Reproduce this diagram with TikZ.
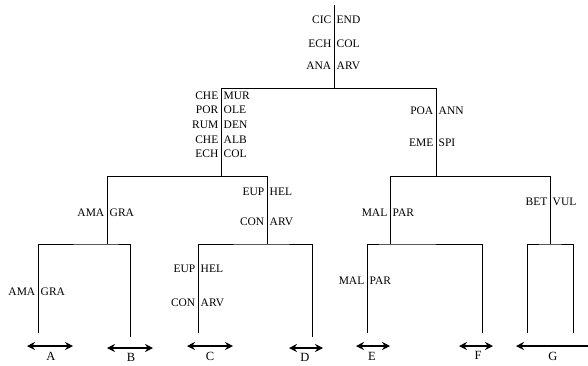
\documentclass[tikz,border=0pt]{standalone}
\usepackage{fontspec}
\setmainfont{Liberation Serif}
\usetikzlibrary{arrows.meta}

% two halves of a split label, left and right of a branch
\newcommand{\splitlab}[5]{%
  \node[lab, anchor=east] (#1l) at (#2-1,#3) {#4};
  \node[lab, anchor=west] (#1r) at (#2+1,#3) {#5};}

\begin{document}
\begin{tikzpicture}[x=1pt, y=-1pt,
  branch/.style={line width=0.9pt},
  lab/.style={font=\fontsize{11.5}{13}\selectfont, inner sep=1.5pt},
  leaf/.style={font=\fontsize{12.5}{14}\selectfont, inner sep=0pt, anchor=north},
  span/.style={{Stealth[length=8pt,width=8pt]}-{Stealth[length=8pt,width=8pt]}, line width=1.6pt}
]
\useasboundingbox (0,0) rectangle (588,365);

% junctions
\coordinate (top) at (334,5);
\coordinate (r) at (334,88);
\coordinate (n1) at (221,88);
\coordinate (n2) at (436,88);
\coordinate (n1b) at (221,176);
\coordinate (n2b) at (436,176);
\coordinate (n11) at (107,176);
\coordinate (n12) at (267,176);
\coordinate (n21) at (390,176);
\coordinate (n22) at (550,176);
\coordinate (n11b) at (107,244);
\coordinate (n12b) at (267,244);
\coordinate (n21b) at (390,244);
\coordinate (n22b) at (550,244);
% leaf ends
\coordinate (lA) at (38,333);
\coordinate (lB) at (130,337);
\coordinate (lC) at (198,333);
\coordinate (lD) at (312,337);
\coordinate (lE) at (367,333);
\coordinate (lF) at (482,333);
\coordinate (lG1) at (527,333);
\coordinate (lG2) at (573,333);

\draw[branch] (top) -- (r);
\draw[branch] (n1b) -- (n1) -- (n2) -- (n2b);
\draw[branch] (n11b) -- (n11) -- (n12) -- (n12b);
\draw[branch] (n21b) -- (n21) -- (n22) -- (n22b);
\draw[branch] (lA) |- (n11b) -| (lB);
\draw[branch] (lC) |- (n12b) -| (lD);
\draw[branch] (lE) |- (n21b) -| (lF);
\draw[branch] (lG1) |- (n22b) -| (lG2);

% split labels
\splitlab{cic}{334}{20}{CIC}{END}
\splitlab{ech}{334}{44}{ECH}{COL}
\splitlab{ana}{334}{66}{ANA}{ARV}
\splitlab{che}{221}{96}{CHE}{MUR}
\splitlab{por}{221}{110}{POR}{OLE}
\splitlab{rum}{221}{125}{RUM}{DEN}
\splitlab{chb}{221}{140}{CHE}{ALB}
\splitlab{ecb}{221}{154}{ECH}{COL}
\splitlab{poa}{436}{111}{POA}{ANN}
\splitlab{eme}{436}{143}{EME}{SPI}
\splitlab{ama}{107}{213}{AMA}{GRA}
\splitlab{eup}{267}{192}{EUP}{HEL}
\splitlab{con}{267}{222}{CON}{ARV}
\splitlab{mal}{390}{213}{MAL}{PAR}
\splitlab{bet}{550}{202}{BET}{VUL}
\splitlab{amb}{38}{292}{AMA}{GRA}
\splitlab{eub}{198}{269}{EUP}{HEL}
\splitlab{cob}{198}{303}{CON}{ARV}
\splitlab{mab}{367}{281}{MAL}{PAR}

% leaf spans
\coordinate (Aw) at (27,346);  \coordinate (Ae) at (73,346);
\coordinate (Bw) at (107,348); \coordinate (Be) at (153,348);
\coordinate (Cw) at (187,346); \coordinate (Ce) at (233,346);
\coordinate (Dw) at (289,348); \coordinate (De) at (323,348);
\coordinate (Ew) at (356,346); \coordinate (Ee) at (390,346);
\coordinate (Fw) at (459,346); \coordinate (Fe) at (493,346);
\coordinate (Gw) at (516,346); \coordinate (Ge) at (600,346);
\draw[span] (Aw) -- (Ae);
\draw[span] (Bw) -- (Be);
\draw[span] (Cw) -- (Ce);
\draw[span] (Dw) -- (De);
\draw[span] (Ew) -- (Ee);
\draw[span] (Fw) -- (Fe);
\draw[span] (Gw) -- (Ge);

\node[leaf] (A) at (51,352) {A};
\node[leaf] (B) at (131,353.5) {B};
\node[leaf] (C) at (210,352.5) {C};
\node[leaf] (D) at (305,353.5) {D};
\node[leaf] (E) at (372,352.5) {E};
\node[leaf] (F) at (478,351.5) {F};
\node[leaf] (G) at (553,352.5) {G};
\end{tikzpicture}
\end{document}
